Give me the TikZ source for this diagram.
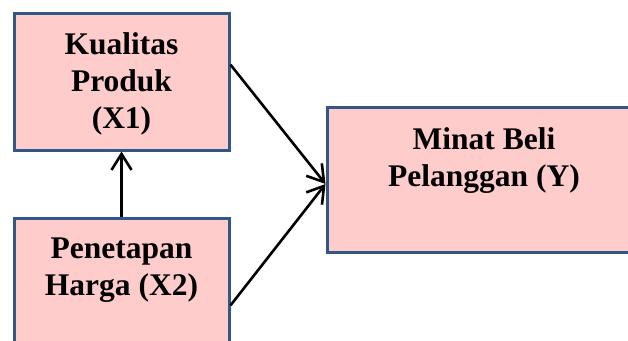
\documentclass[tikz,border=0pt]{standalone}
\usepackage{fontspec}
\setmainfont{Liberation Serif}
\usetikzlibrary{arrows.meta,calc}
\definecolor{boxfill}{RGB}{255,204,204}
\definecolor{boxline}{RGB}{50,86,134}
\tikzset{
  varbox/.style={draw=boxline, fill=boxfill, line width=3pt, rectangle, inner sep=0pt},
  vartext/.style={font=\bfseries\fontsize{31.5}{37}\selectfont, align=center, anchor=base, inner sep=0pt},
  link/.style={draw=black, line width=2.6pt, -{Straight Barb[length=16pt,width=20pt,line width=2.6pt]}}
}
\begin{document}
\begin{tikzpicture}[x=1pt,y=-1pt]
\useasboundingbox (0,0) rectangle (628,340);
\node[varbox, minimum width=215pt, minimum height=137pt] (x1) at (121.5,81.5) {};
\node[varbox, minimum width=215pt, minimum height=142pt] (x2) at (121.5,289) {};
\node[varbox, minimum width=343pt, minimum height=145pt] (y) at (498.5,179.5) {};
\node[vartext] (tx1) at (121.5,128) {Kualitas\\Produk\\(X1)};
\node[vartext] (tx2) at (121.5,295) {Penetapan\\Harga (X2)};
\node[vartext] (ty) at (484,186) {Minat Beli\\Pelanggan (Y)};
\draw[link] (x2.north) -- (x1.south);
\draw[link] ($(x1.north east)!0.38!(x1.south east)$) -- ([yshift=-4.5pt]y.west);
\draw[link] ($(x2.north east)!0.613!(x2.south east)$) -- ([yshift=-4.5pt]y.west);
\end{tikzpicture}
\end{document}
